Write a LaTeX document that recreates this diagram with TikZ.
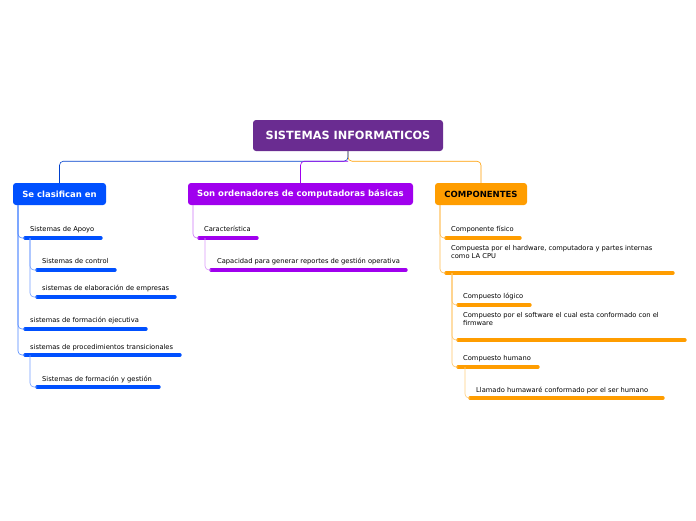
\documentclass[tikz,border=0pt]{standalone}
\usepackage{fontspec}
\setmainfont{DejaVu Sans}
\usetikzlibrary{positioning}
\definecolor{rootc}{HTML}{6A2C91}
\definecolor{bluec}{HTML}{0050FF}
\definecolor{purpc}{HTML}{A000EE}
\definecolor{orngc}{HTML}{FF9D00}
\tikzset{
  topic/.style={rounded corners=3pt, inner sep=0pt, font=\bfseries\fontsize{8.5}{10}\selectfont},
  leaf/.style={anchor=base west, inner sep=0pt, font=\fontsize{6.7}{8}\selectfont, align=left},
  bar/.style={line width=3.4pt, line cap=round},
  link/.style={line width=0.6pt, rounded corners=4pt}
}
\begin{document}
\begin{tikzpicture}[x=1pt,y=-1pt]
\useasboundingbox (0,0) rectangle (696,520);
% central topic
\node[topic, fill=rootc, text=white, minimum width=190pt, minimum height=31pt, font=\bfseries\fontsize{11.3}{13}\selectfont] (ROOT) at (348,135.5) {SISTEMAS INFORMATICOS};
\node[topic, fill=bluec, text=white, minimum width=93pt, minimum height=22pt] (CLAS) at (59.5,194) {Se clasifican en};
\node[topic, fill=purpc, text=white, minimum width=225pt, minimum height=22pt] (ORD) at (300.5,194) {Son ordenadores de computadoras básicas};
\node[topic, fill=orngc, text=black, minimum width=92pt, minimum height=22pt] (COMP) at (481,194) {COMPONENTES};
\draw[link, orngc] (ROOT.south) -- ++(0,10) -| (COMP.north);
\draw[link, bluec!80!black] (ROOT.south) -- ++(0,10) -| (CLAS.north);
\draw[link, purpc] (ROOT.south) ++(0,10) -| (ORD.north);
% blue branch
\coordinate (B0) at (18,205);
\coordinate (B1) at (25,238); \coordinate (B11) at (37,270); \coordinate (B12) at (37,297);
\coordinate (B2) at (25,329); \coordinate (B3) at (25,355); \coordinate (B31) at (37,387);
\node[leaf] (SA) at (30,231) {Sistemas de Apoyo};
\node[leaf] (SC) at (42,263) {Sistemas de control};
\node[leaf] (SE) at (42,290) {sistemas de elaboración de empresas};
\node[leaf] (SF) at (30,322) {sistemas de formación ejecutiva};
\node[leaf] (SP) at (30,349) {sistemas de procedimientos transicionales};
\node[leaf] (SG) at (42,381) {Sistemas de formación y gestión};
\draw[bar, bluec] (B1) -- (101,238);
\draw[bar, bluec] (B11) -- (115,270);
\draw[bar, bluec] (B12) -- (175,297);
\draw[bar, bluec] (B2) -- (146,329);
\draw[bar, bluec] (B3) -- (180,355);
\draw[bar, bluec] (B31) -- (159,387);
\foreach \t in {B1,B2,B3} \draw[link, bluec!70] (B0) |- (\t);
\foreach \t in {B11,B12} \draw[link, bluec!55] ([xshift=5pt]B1) |- (\t);
\draw[link, bluec!55] ([xshift=5pt]B3) |- (B31);
% purple branch
\coordinate (P0) at (193,205); \coordinate (P1) at (199,238); \coordinate (P11) at (211,270);
\node[leaf] (CA) at (204,231) {Característica};
\node[leaf] (CR) at (217,263) {Capacidad para generar reportes de gestión operativa};
\draw[bar, purpc] (P1) -- (257,238);
\draw[bar, purpc] (P11) -- (406,270);
\draw[link, purpc!55] (P0) |- (P1);
\draw[link, purpc!40] ([xshift=6pt]P1) |- (P11);
% orange branch
\coordinate (O0) at (440,205); \coordinate (O1) at (446,238); \coordinate (O2) at (446,273);
\coordinate (O21) at (458,305); \coordinate (O22) at (458,340); \coordinate (O23) at (458,367);
\coordinate (O231) at (470,398);
\node[leaf] (CF) at (451,231) {Componente físico};
\node[leaf] (CH) at (451,258.5) {Compuesta por el hardware, computadora y partes internas\\como LA CPU};
\node[leaf] (CL) at (463,298) {Compuesto lógico};
\node[leaf] (CS) at (463,325.5) {Compuesto por el software el cual esta conformado  con el\\firmware};
\node[leaf] (CU) at (463,360) {Compuesto humano};
\node[leaf] (LL) at (476,392) {Llamado   humawaré conformado por  el ser humano};
\draw[bar, orngc] (O1) -- (520,238);
\draw[bar, orngc] (O2) -- (673,273);
\draw[bar, orngc] (O21) -- (530,305);
\draw[bar, orngc] (O22) -- (685,340);
\draw[bar, orngc] (O23) -- (538,367);
\draw[bar, orngc] (O231) -- (663,398);
\foreach \t in {O1,O2} \draw[link, orngc!70] (O0) |- (\t);
\foreach \t in {O21,O22,O23} \draw[link, orngc!60] ([xshift=6pt]O2) |- (\t);
\draw[link, orngc!50] ([xshift=7pt]O23) |- (O231);
\end{tikzpicture}
\end{document}
